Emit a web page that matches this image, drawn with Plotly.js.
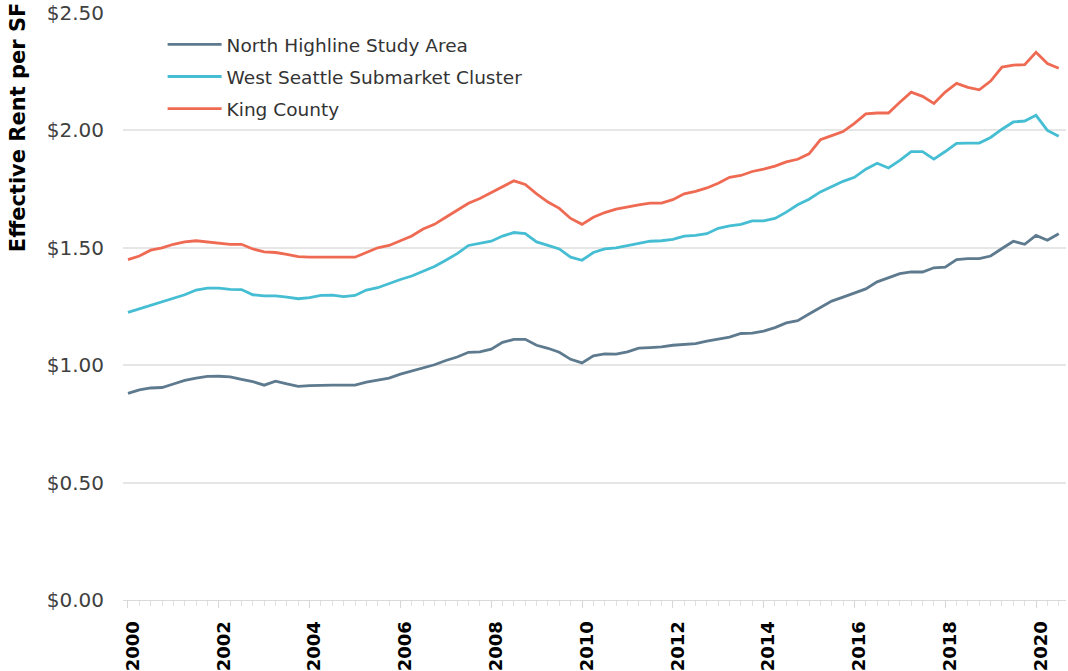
<!DOCTYPE html>
<html>
<head>
<meta charset="utf-8">
<script src="https://cdn.plot.ly/plotly-3.0.1.min.js"></script>
<style>html,body{margin:0;padding:0;background:#fff;}#chart{width:1068px;height:671px;}</style>
</head>
<body>
<div id="chart"></div>
<script>
// Quarterly series, 2000 Q1 .. 2020 Q3
const startYear = 2000;
const seriesNames = ["North Highline Study Area", "West Seattle Submarket Cluster", "King County"];

const northHighline = [0.88,0.895,0.903,0.905,0.92,0.935,0.945,0.952,0.953,0.95,0.94,0.93,0.915,0.932,0.92,
  0.91,0.913,0.915,0.915,0.915,0.915,0.928,0.937,0.945,0.962,0.975,0.99,1.002,1.02,
  1.035,1.055,1.057,1.068,1.097,1.11,1.11,1.085,1.072,1.055,1.025,1.01,1.04,1.048,
  1.047,1.057,1.073,1.075,1.078,1.085,1.09,1.092,1.103,1.113,1.12,1.135,1.137,1.145,
  1.16,1.18,1.19,1.218,1.247,1.273,1.29,1.308,1.325,1.355,1.373,1.39,1.397,1.397,
  1.415,1.418,1.45,1.454,1.454,1.465,1.497,1.528,1.515,1.553,1.532,1.56];

const westSeattle = [1.225,1.24,1.255,1.27,1.285,1.30,1.32,1.328,1.328,1.323,1.322,1.30,1.295,1.295,1.29,
  1.283,1.288,1.297,1.298,1.292,1.297,1.32,1.33,1.348,1.365,1.38,1.40,1.42,1.447,
  1.475,1.51,1.52,1.528,1.55,1.565,1.56,1.525,1.51,1.495,1.46,1.447,1.48,1.495,
  1.50,1.51,1.52,1.528,1.53,1.536,1.55,1.553,1.56,1.583,1.593,1.60,1.615,1.615,
  1.625,1.652,1.683,1.707,1.738,1.76,1.783,1.80,1.835,1.86,1.84,1.872,1.91,1.91,
  1.878,1.91,1.945,1.946,1.946,1.97,2.005,2.036,2.04,2.064,2.0,1.975];

const kingCounty = [1.45,1.465,1.49,1.50,1.515,1.525,1.53,1.525,1.522,1.515,1.515,1.495,1.483,1.48,1.472,
  1.462,1.46,1.46,1.46,1.46,1.46,1.48,1.50,1.51,1.53,1.55,1.58,1.60,1.63,
  1.66,1.69,1.71,1.735,1.76,1.785,1.77,1.73,1.695,1.668,1.625,1.60,1.63,1.65,
  1.665,1.675,1.683,1.69,1.69,1.705,1.73,1.74,1.755,1.775,1.80,1.808,1.825,1.835,
  1.848,1.866,1.877,1.90,1.96,1.978,1.995,2.03,2.07,2.074,2.074,2.12,2.163,2.145,
  2.115,2.163,2.20,2.183,2.173,2.21,2.27,2.278,2.28,2.333,2.285,2.265];

const yearTicks = [2000,2002,2004,2006,2008,2010,2012,2014,2016,2018,2020];
const yearTickLabels = ["2000","2002","2004","2006","2008","2010","2012","2014","2016","2018","2020"];

// quarter positions (x coordinate in years) and labels
const quarterX = northHighline.map((_, i) => startYear + i / 4);
const quarterLabels = northHighline.map((_, i) => (startYear + Math.floor(i / 4)) + " Q" + (i % 4 + 1));

const colors = ["#5e7a8e", "#45bdd2", "#ef6a52"];
const allSeries = [northHighline, westSeattle, kingCounty];

const traces = allSeries.map((vals, k) => ({
  type: "scatter",
  mode: "lines",
  name: seriesNames[k],
  legendgroup: "g" + k,
  x: quarterX,
  y: vals,
  text: quarterLabels,
  hovertemplate: "%{text}: $%{y:.2f}<extra>" + seriesNames[k] + "</extra>",
  line: {color: colors[k], width: 2.8}
}));

const layout = {
  width: 1068,
  height: 671,
  margin: {l: 123, r: 2, t: 13, b: 71},
  paper_bgcolor: "#ffffff",
  plot_bgcolor: "#ffffff",
  font: {family: "DejaVu Sans, sans-serif", color: "#333333"},
  showlegend: true,
  legend: {
    x: 0.042, y: 0.978, xanchor: "left", yanchor: "top",
    bgcolor: "rgba(0,0,0,0)",
    font: {family: "DejaVu Sans, sans-serif", size: 18.5, color: "#333333"},
    itemwidth: 54,
    traceorder: "grouped",
    tracegroupgap: 5
  },
  xaxis: {
    range: [1999.89, 2020.66],
    tickmode: "array",
    tickvals: yearTicks,
    ticktext: yearTickLabels,
    tickangle: -90,
    tickfont: {family: "DejaVu Sans, sans-serif", size: 18, color: "#000000", weight: "bold"},
    showgrid: false,
    zeroline: false,
    showline: true,
    linecolor: "#d9d9d9",
    linewidth: 1,
    ticks: "outside",
    ticklen: 7,
    tickcolor: "#d6d6d6",
    ticklabelstandoff: 6,
    ticklabelshift: 5,
    minor: {dtick: 0.25, tick0: 2000, ticks: "outside", ticklen: 5, tickcolor: "#e0e0e0", showgrid: false}
  },
  yaxis: {
    range: [0, 2.5],
    dtick: 0.5,
    tick0: 0,
    tickprefix: "$",
    tickformat: ".2f",
    showgrid: true,
    gridcolor: "#e6e6e6",
    gridwidth: 1.5,
    zeroline: false,
    showline: false,
    ticks: "",
    tickfont: {family: "DejaVu Sans, sans-serif", size: 20, color: "#404040"},
    ticklabelstandoff: 18
  },
  annotations: [{
    text: "<b>Effective Rent per SF</b>",
    textangle: -90,
    xref: "paper", yref: "paper",
    x: -0.111, y: 0.806,
    xanchor: "center", yanchor: "middle",
    showarrow: false,
    font: {family: "DejaVu Sans, sans-serif", size: 21, color: "#000000"}
  }]
};

Plotly.newPlot("chart", traces, layout, {displayModeBar: false});
</script>
</body>
</html>
